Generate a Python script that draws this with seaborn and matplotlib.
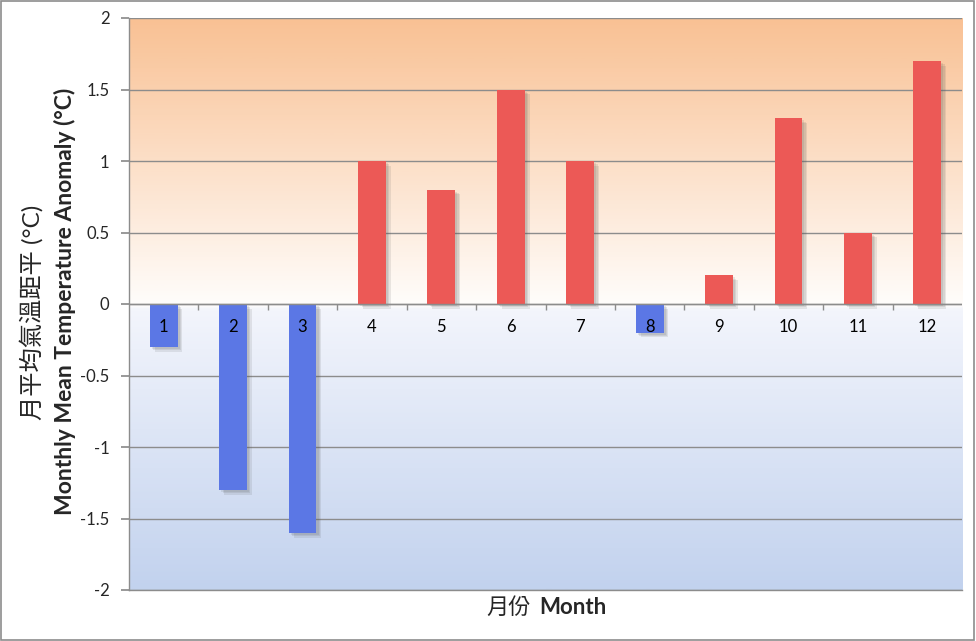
import matplotlib

matplotlib.use("Agg")
import matplotlib.pyplot as plt
import matplotlib.patheffects as pe
from matplotlib.colors import LinearSegmentedColormap
import numpy as np
import pandas as pd
import seaborn as sns

months = ["1", "2", "3", "4", "5", "6", "7", "8", "9", "10", "11", "12"]
anomaly = [-0.3, -1.3, -1.6, 1.0, 0.8, 1.5, 1.0, -0.2, 0.2, 1.3, 0.5, 1.7]
yticks = [-2, -1.5, -1, -0.5, 0, 0.5, 1, 1.5, 2]
ytick_labels = ["-2", "-1.5", "-1", "-0.5", "0", "0.5", "1", "1.5", "2"]

RED = "#ec5956"
BLUE = "#5b77e5"
GRID = "#8c8c8c"

sns.set_theme(style="white")
plt.rcParams["font.family"] = ["Lato", "Noto Sans CJK TC", "DejaVu Sans"]

df = pd.DataFrame({"month": months, "anomaly": anomaly})
df["colour"] = np.where(df["anomaly"] >= 0, RED, BLUE)

fig = plt.figure(figsize=(9.76, 6.41), dpi=100)
ax = fig.add_axes([129 / 976, 1 - 590 / 641, (962 - 129) / 976, (590 - 18) / 641])

# background gradient: orange above zero, light blue below
grad_cmap = LinearSegmentedColormap.from_list(
    "bg",
    [(0.0, "#c2d2ee"), (0.49, "#f3f5fc"), (0.5, "#fffdfb"), (1.0, "#f9c194")],
)
ax.imshow(
    np.linspace(0, 1, 400).reshape(-1, 1),
    cmap=grad_cmap,
    origin="lower",
    extent=[-0.5, 11.5, -2, 2],
    aspect="auto",
    zorder=0,
)

sns.barplot(
    data=df,
    x="month",
    y="anomaly",
    hue="month",
    palette=dict(zip(df["month"], df["colour"])),
    legend=False,
    width=0.4,
    saturation=1,
    ax=ax,
    zorder=3,
)
# soft drop shadow, a few stacked faint layers
shadow = [
    pe.SimplePatchShadow(offset=(o, -o), shadow_rgbFace="#555555", alpha=0.12)
    for o in (1.5, 2.5, 3.5)
]
for bar in ax.patches:
    bar.set_edgecolor("none")
    bar.set_path_effects(shadow + [pe.Normal()])

ax.set_xlim(-0.5, 11.5)
ax.set_ylim(-2, 2)
ax.set_yticks(yticks)
ax.set_yticklabels(ytick_labels, fontsize=12)
ax.yaxis.grid(True, color=GRID, linewidth=1, zorder=1)
ax.set_axisbelow(True)
ax.tick_params(axis="y", length=6, color=GRID, left=True, pad=8)

# month labels sit just under the zero line
ax.set_xticks([])
for i, m in enumerate(months):
    ax.text(i, -0.16, m, ha="center", va="center", fontsize=12, color="black", zorder=5)

ax.axhline(0, color=GRID, linewidth=1, zorder=4)
ax.vlines(np.arange(0.5, 11.5, 1), -0.045, 0, color=GRID, linewidth=1, zorder=4)

for side in ["top", "right"]:
    ax.spines[side].set_visible(False)
for side in ["left", "bottom"]:
    ax.spines[side].set_color(GRID)
    ax.spines[side].set_linewidth(1)

ax.set_xlabel("")
ax.set_ylabel("")

fig.text(32 / 976, 1 - 312 / 641, "月平均氣溫距平 (°C)", rotation=90,
         ha="center", va="center", fontsize=17.5)
fig.text(65 / 976, 1 - 301 / 641, "Monthly Mean Temperature Anomaly (°C)", rotation=90,
         ha="center", va="center", fontsize=16.5, fontweight="bold")
fig.text(531 / 976, 1 - 607 / 641, "月份", ha="right", va="center", fontsize=16)
fig.text(539 / 976, 1 - 607 / 641, "Month", ha="left", va="center", fontsize=16,
         fontweight="bold")

# light grey frame around the whole chart
fig.patches.append(
    plt.Rectangle((0.001, 0.002), 0.997, 0.996, transform=fig.transFigure,
                  fill=False, edgecolor="#8c8c8c", linewidth=1.2)
)

fig.savefig("out.png", dpi=100)
plt.close(fig)
